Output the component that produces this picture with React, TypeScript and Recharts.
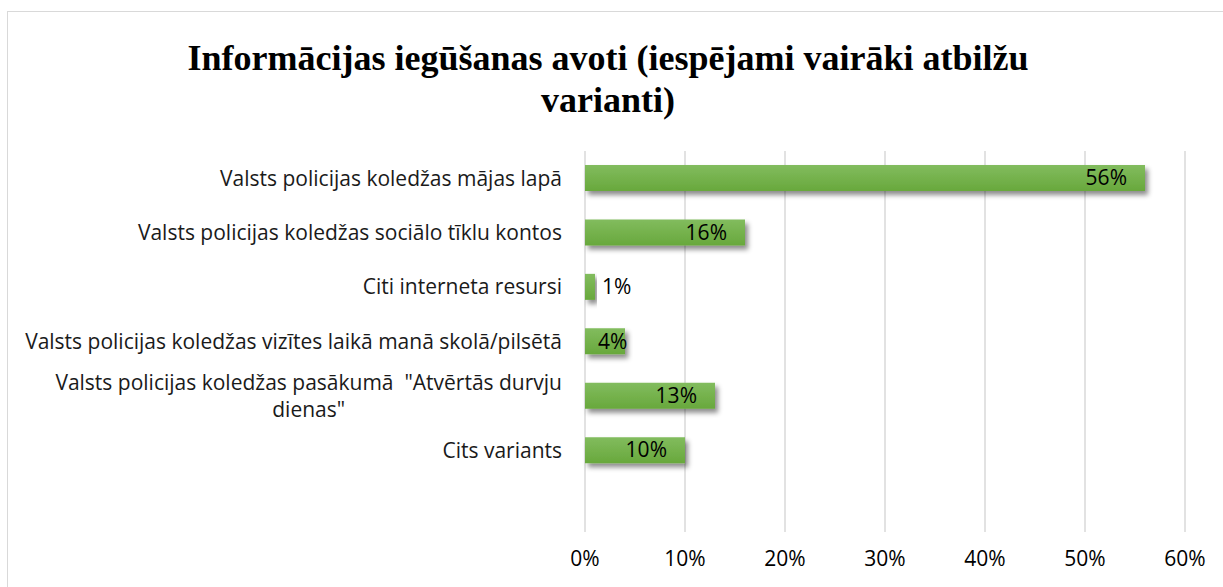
import React from 'react';
import { BarChart, Bar, XAxis, YAxis, CartesianGrid, LabelList } from 'recharts';

const TITLE = 'Informācijas iegūšanas avoti (iespējami vairāki atbilžu varianti)';

// categories top to bottom, last row is empty in the source sheet
const CATEGORIES = [
  'Valsts policijas koledžas mājas lapā',
  'Valsts policijas koledžas sociālo tīklu kontos',
  'Citi interneta resursi',
  'Valsts policijas koledžas vizītes laikā manā skolā/pilsētā',
  'Valsts policijas koledžas pasākumā  "Atvērtās durvju dienas"',
  'Cits variants',
  '',
];
const SHARES = [56, 16, 1, 4, 13, 10, null];
const X_TICKS = [0, 10, 20, 30, 40, 50, 60];

const data = CATEGORIES.map((name, i) => ({ name, value: SHARES[i] }));

const LABEL_FONT = '"Open Sans", "Noto Sans", sans-serif';
const LABEL_SIZE = 21;
const WRAP_WIDTH = 555;

let ctx: CanvasRenderingContext2D | null = null;
function measure(text: string) {
  if (!ctx) ctx = document.createElement('canvas').getContext('2d');
  if (!ctx) return text.length * 10;
  ctx.font = `${LABEL_SIZE}px ${LABEL_FONT}`;
  return ctx.measureText(text).width;
}

function wrap(text: string) {
  const words = text.split(' ');
  const lines: string[] = [];
  let cur: string | null = null;
  for (const w of words) {
    const next: string = cur === null ? w : cur + ' ' + w;
    if (cur !== null && w !== '' && measure(next) > WRAP_WIDTH) {
      lines.push(cur);
      cur = w;
    } else cur = next;
  }
  if (cur) lines.push(cur);
  return lines;
}

const CategoryTick = (props: any) => {
  const { x, y, payload } = props;
  const label = payload.value as string;
  if (!label) return null;
  const lines = wrap(label);
  const widest = Math.max(...lines.map(measure));
  const cx = x - widest / 2;
  const lh = 27;
  const top = y - ((lines.length - 1) * lh) / 2;
  return (
    <g>
      {lines.map((l, i) => (
        <text key={i} x={cx} y={top + i * lh} dy="0.35em" textAnchor="middle" fill="#1a1a1a"
          fontSize={LABEL_SIZE} fontFamily={LABEL_FONT} style={{ whiteSpace: 'pre' }}>
          {l}
        </text>
      ))}
    </g>
  );
};

const ValueLabel = (props: any) => {
  const { x, y, width, height, value } = props;
  if (value == null) return null;
  let tx = x + width - 18;
  let anchor = 'end';
  if (width < 30) {
    tx = x + width + 7;
    anchor = 'start';
  } else if (width < 60) {
    tx = x + 13;
    anchor = 'start';
  }
  return (
    <text x={tx} y={y + height / 2} dy="0.35em" textAnchor={anchor} fill="#000"
      fontSize={21} fontFamily={LABEL_FONT}>
      {value}%
    </text>
  );
};

export default function App() {
  return (
    <div style={{ position: 'absolute', left: 0, top: 0, width: 1223, height: 587, background: '#fff', overflow: 'hidden' }}>
      <div style={{ position: 'absolute', left: 7, top: 11, width: 1240, height: 600, border: '1px solid #d9d9d9' }} />
      <div style={{
        position: 'absolute', left: 158, top: 37, width: 900, textAlign: 'center',
        fontFamily: '"Liberation Serif", "Times New Roman", serif', fontWeight: 'bold', fontSize: 36, lineHeight: '42px', color: '#000',
      }}>
        {TITLE}
      </div>
      <div style={{ position: 'absolute', left: 0, top: 0 }}>
        <BarChart width={1223} height={587} data={data} layout="vertical"
          margin={{ top: 151, right: 38, bottom: 25, left: 0 }} barCategoryGap={0}>
          <defs>
            <linearGradient id="barFill" x1="0" y1="0" x2="0" y2="1">
              <stop offset="0%" stopColor="#82bc5e" />
              <stop offset="100%" stopColor="#68a83c" />
            </linearGradient>
            <filter id="shadow" x="-10%" y="-30%" width="130%" height="190%">
              <feDropShadow dx="3" dy="4" stdDeviation="2.5" floodColor="#000" floodOpacity="0.45" />
            </filter>
          </defs>
          <CartesianGrid horizontal={false} stroke="#d9d9d9" strokeWidth={1.5} />
          <XAxis type="number" domain={[0, 60]} ticks={X_TICKS} tickFormatter={(v: number) => `${v}%`}
            axisLine={false} tickLine={false} height={30} tickMargin={13}
            tick={{ fill: '#000', fontSize: 21, fontFamily: LABEL_FONT }} />
          <YAxis type="category" dataKey="name" width={585} axisLine={false} tickLine={false}
            tickMargin={17} tick={<CategoryTick />} interval={0} />
          <Bar dataKey="value" fill="url(#barFill)" barSize={26} filter="url(#shadow)" isAnimationActive={false}>
            <LabelList dataKey="value" content={<ValueLabel />} />
          </Bar>
        </BarChart>
      </div>
    </div>
  );
}
